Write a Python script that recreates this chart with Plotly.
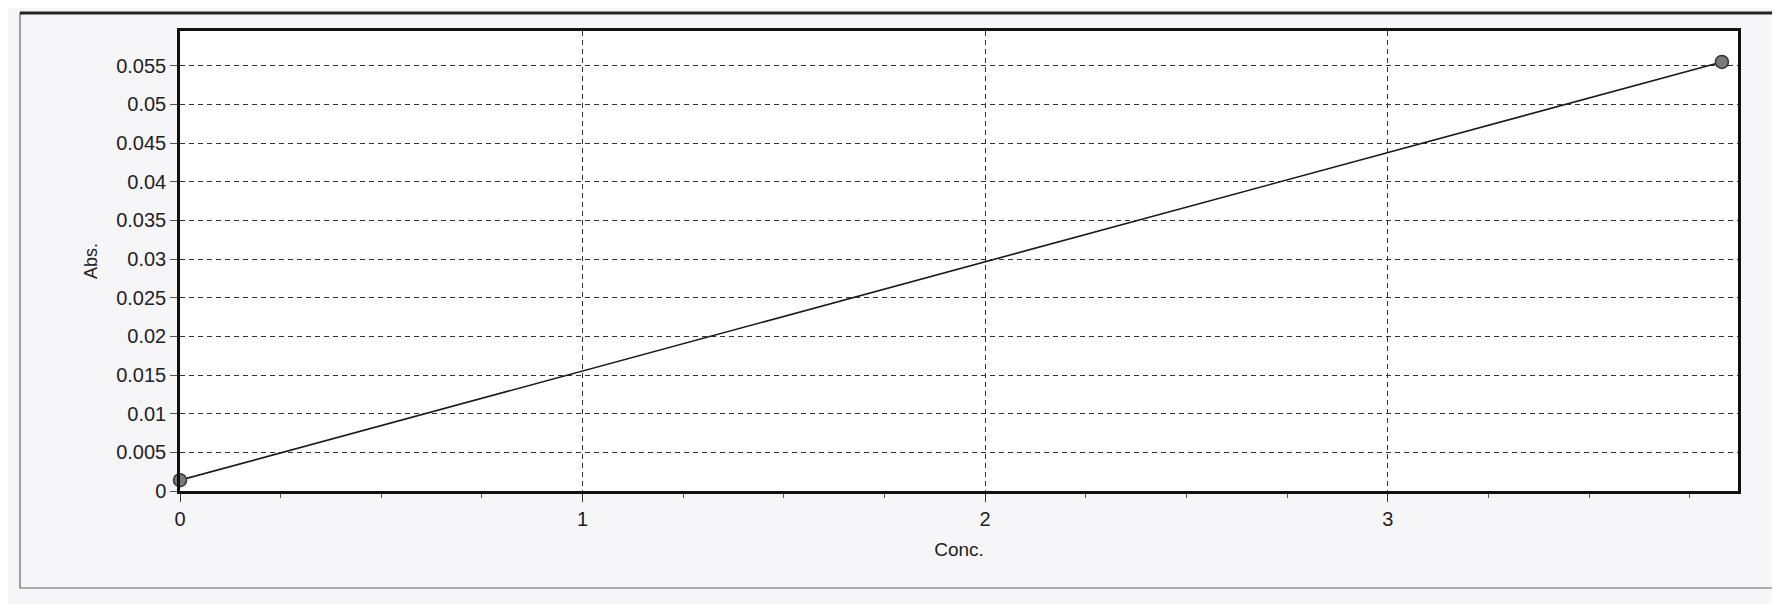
import plotly.graph_objects as go

conc = [0.0, 3.83]
absorbance = [0.0014, 0.0555]

y_ticks = [0, 0.005, 0.01, 0.015, 0.02, 0.025, 0.03, 0.035, 0.04, 0.045, 0.05, 0.055]
y_tick_labels = ["0", "0.005", "0.01", "0.015", "0.02", "0.025", "0.03", "0.035",
                 "0.04", "0.045", "0.05", "0.055"]
x_ticks = [0, 1, 2, 3]
x_tick_labels = ["0", "1", "2", "3"]

W, H = 1780, 604
L, R, T, B = 172, 50, 23, 121
pw = W - L - R
ph = H - T - B

def px(x):
    return (x - L) / pw

def py(y):
    return (H - B - y) / ph

fig = go.Figure()
fig.add_trace(go.Scatter(
    x=conc, y=absorbance, mode="lines+markers",
    line=dict(color="#1a1a1a", width=1.6),
    marker=dict(size=13, color="#7a7a7a", line=dict(color="#333333", width=1.5)),
    showlegend=False, cliponaxis=False,
))

font = dict(family="Liberation Sans, Arial, sans-serif", size=20, color="#222222")

fig.update_layout(
    width=W, height=H,
    margin=dict(l=L, r=R, t=T, b=B),
    paper_bgcolor="#f6f6f8",
    plot_bgcolor="#ffffff",
    font=font,
    xaxis=dict(
        range=[0, 3.87], tickvals=x_ticks, ticktext=x_tick_labels,
        showgrid=True, gridcolor="#333333", griddash="5px,4px", gridwidth=1.3,
        zeroline=False, showline=True, linecolor="#111111", linewidth=2.5, mirror=True,
        ticks="outside", ticklen=8, tickcolor="#333333",
        minor=dict(dtick=0.25, ticks="outside", ticklen=4, tickcolor="#555555", showgrid=False),
        title=dict(text="Conc.", standoff=14, font=dict(size=19)),
    ),
    yaxis=dict(
        range=[0, 0.0595], tickvals=y_ticks, ticktext=y_tick_labels,
        showgrid=True, gridcolor="#333333", griddash="5px,4px", gridwidth=1.3,
        zeroline=False, showline=True, linecolor="#111111", linewidth=2.5, mirror=True,
        ticks="outside", ticklen=7, tickcolor="#555555",
        title=dict(text="Abs.", standoff=14, font=dict(size=18)),
    ),
    shapes=[
        dict(type="rect", xref="paper", yref="paper",
             x0=px(12), x1=px(1772), y0=py(580), y1=py(5),
             line=dict(color="#666666", width=1.2), layer="below"),
        dict(type="line", xref="paper", yref="paper",
             x0=px(12), x1=px(1772), y0=py(5), y1=py(5),
             line=dict(color="#222222", width=3)),
    ],
)

fig.write_html("out.html")
